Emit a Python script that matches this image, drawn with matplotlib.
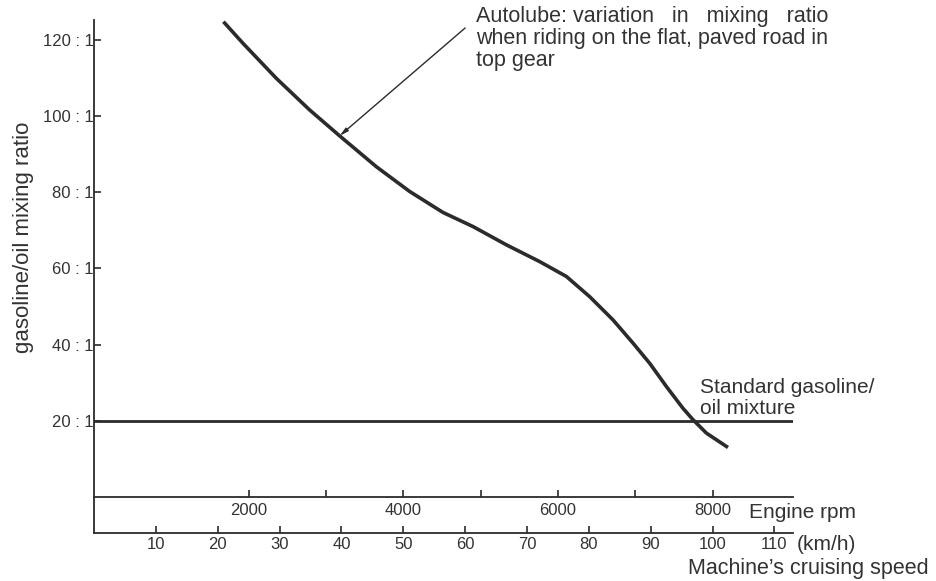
import matplotlib
matplotlib.use("Agg")
import matplotlib.pyplot as plt

# Autolube mixing ratio curve (engine rpm -> gasoline:oil ratio)
rpm = [1690, 1926, 2358, 2789, 3177, 3652, 4083, 4514, 4902, 5334, 5765,
       6110, 6411, 6713, 6972, 7188, 7404, 7618, 7748, 7921, 8180]
ratio = [124.4, 119.1, 109.9, 101.6, 94.8, 86.7, 80.2, 74.7, 71.0, 66.2, 61.8,
         57.9, 52.6, 46.5, 40.4, 35.1, 29.0, 23.3, 20.3, 16.8, 13.3]

standard_ratio = 20
y_ticks = [20, 40, 60, 80, 100, 120]
y_tick_labels = ["20 : 1", "40 : 1", "60 : 1", "80 : 1", "100 : 1", "120 : 1"]
rpm_major = [2000, 4000, 6000, 8000]
rpm_minor = [3000, 5000, 7000]
kmh_ticks = [10, 20, 30, 40, 50, 60, 70, 80, 90, 100, 110]
RPM_PER_KMH = 80  # 8000 rpm = 100 km/h in top gear

plt.rcParams['font.family'] = ['Liberation Sans', 'DejaVu Sans']
ink = "#2b2b2b"
txt = "#333333"

fig = plt.figure(figsize=(9.36, 5.81), dpi=100)
ax = fig.add_axes([0.1004, 0.0826, 0.7468, 0.883])

# curves
ax.plot(rpm, ratio, color=ink, lw=2.6, solid_joinstyle='round')
ax.axhline(standard_ratio, color=ink, lw=2.0)

ax.set_xlim(0, 9040)
ax.set_ylim(-9.4, 125.2)

# spines
for s in ['top', 'right']:
    ax.spines[s].set_visible(False)
ax.spines['left'].set_linewidth(1.3)
ax.spines['left'].set_color(ink)
ax.spines['bottom'].set_position(('data', 0))
ax.spines['bottom'].set_linewidth(1.3)
ax.spines['bottom'].set_color(ink)

# y axis
ax.set_yticks(y_ticks)
ax.set_yticklabels(y_tick_labels)
ax.tick_params(axis='y', direction='in', length=5, width=1.2, pad=0,
               labelsize=12, colors=ink, labelcolor=txt)
ax.set_ylabel("gasoline/oil mixing ratio", fontsize=16, color=txt)
ax.yaxis.set_label_coords(-0.086, 0.577)

# rpm axis
ax.set_xticks(rpm_major)
ax.set_xticks(rpm_minor, minor=True)
ax.tick_params(axis='x', which='both', direction='in', length=5, width=1.2,
               pad=4, labelsize=12, colors=ink, labelcolor=txt)
ax.annotate("Engine rpm", xy=(8000, 0), xytext=(26, -10.8), textcoords='offset points',
            ha='left', va='center', fontsize=15, color=txt)

# km/h axis
sec = ax.secondary_xaxis(0.0, functions=(lambda x: x / RPM_PER_KMH,
                                         lambda v: v * RPM_PER_KMH))
sec.set_xticks(kmh_ticks)
sec.spines['bottom'].set_linewidth(1.3)
sec.spines['bottom'].set_color(ink)
sec.tick_params(axis='x', direction='in', length=5, width=1.2, pad=3,
                labelsize=12, colors=ink, labelcolor=txt)
ax.annotate("(km/h)", xy=(1.0, 0.0), xycoords='axes fraction',
            xytext=(3, -8.6), textcoords='offset points',
            ha='left', va='center', fontsize=15, color=txt)
ax.annotate("Machine\u2019s cruising speed", xy=(1.0, 0.0), xycoords='axes fraction',
            xytext=(-75.6, -25.2), textcoords='offset points',
            ha='left', va='center', fontsize=15.5, color=txt)

# annotations
ax.annotate("", xy=(rpm[4], ratio[4]), xytext=(4800, 123.1),
            arrowprops=dict(arrowstyle='-|>,head_length=0.5,head_width=0.12',
                            color=ink, lw=1.0, shrinkA=0, shrinkB=0))
ax.text(4940, 128.8, "Autolube: variation   in   mixing   ratio\n"
                     "when riding on the flat, paved road in\n"
                     "top gear",
        ha='left', va='top', fontsize=15.5, color=txt, linespacing=1.05)
ax.text(7835, 20.9, "Standard gasoline/\noil mixture",
        ha='left', va='bottom', fontsize=15, color=txt, linespacing=1.1)

fig.savefig("out.png", dpi=100, facecolor='white')
